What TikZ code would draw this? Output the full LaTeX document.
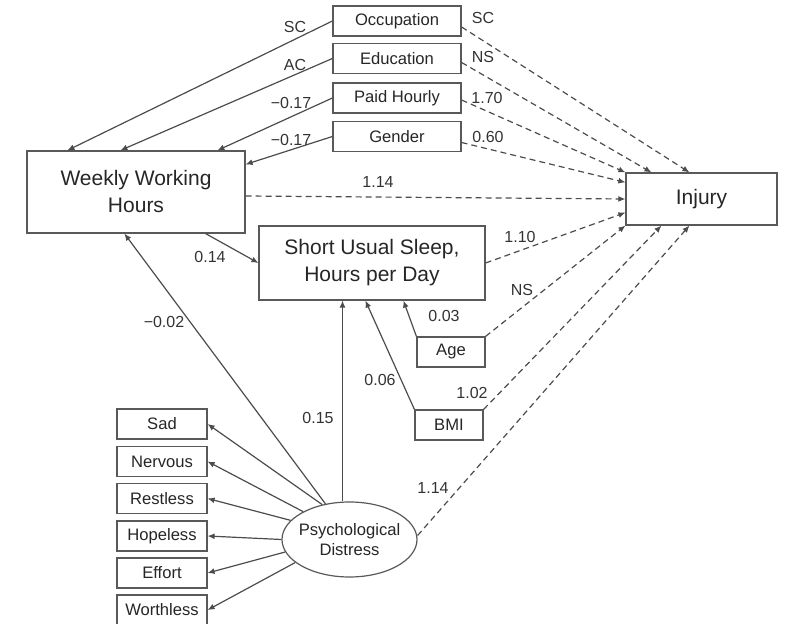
\documentclass[tikz,border=0pt]{standalone}
\usepackage{fontspec}
\setmainfont{Liberation Sans}
\usetikzlibrary{arrows.meta,shapes.geometric}

\tikzset{
  box/.style={draw=black!65, line width=0.6pt, inner sep=0pt, align=center, text=black!85,
    minimum height=15pt, font=\fontsize{8.3}{10}\selectfont},
  bigbox/.style={box, font=\fontsize{10.5}{13.5}\selectfont},
  arr/.style={draw=black!70, line width=0.6pt, -{Latex[length=3.5pt,width=3pt]}},
  darr/.style={arr, dash pattern=on 3pt off 2pt},
  lbl/.style={font=\fontsize{8}{9}\selectfont, text=black!80, inner sep=1pt}
}

\begin{document}
\begin{tikzpicture}[x=0.5pt, y=-0.5pt]
	\useasboundingbox (0,0) rectangle (793,624);
	% covariates at the top
	\node[box, minimum width=64pt] (occ) at (397,21) {Occupation};
	\node[box, minimum width=64pt] (edu) at (397,58.5) {Education};
	\node[box, minimum width=64pt] (paid) at (397,98) {Paid Hourly};
	\node[box, minimum width=64pt] (gender) at (397,136.5) {Gender};
	
	% main variables
	\node[bigbox, minimum width=109pt, minimum height=41pt] (wwh) at (136,192) {Weekly Working\\Hours};
	\node[bigbox, minimum width=75.5pt, minimum height=26pt] (injury) at (701.5,199) {Injury};
	\node[bigbox, minimum width=113pt, minimum height=37pt] (sleep) at (372,263) {Short Usual Sleep,\\Hours per Day};
	\node[box, minimum width=34pt] (age) at (451,352) {Age};
	\node[box, minimum width=34pt] (bmi) at (449,425) {BMI};
	
	% latent variable and indicators
	\node[box, ellipse, inner xsep=-5pt, minimum width=67.5pt, minimum height=37.5pt] (psych) at (349.5,539.5) {Psychological\\Distress};
	\node[box, minimum width=45pt] (sad) at (162,424) {Sad};
	\node[box, minimum width=45pt] (nervous) at (162,461.5) {Nervous};
	\node[box, minimum width=45pt] (restless) at (162,498.5) {Restless};
	\node[box, minimum width=45pt] (hopeless) at (162,536) {Hopeless};
	\node[box, minimum width=45pt] (effort) at (162,573) {Effort};
	\node[box, minimum width=45pt] (worthless) at (162,610) {Worthless};
	
	% solid paths
	\draw[arr] (occ.west) -- ([xshift=20.5pt]wwh.north west);
	\draw[arr] (edu.west) -- ([xshift=47pt]wwh.north west);
	\draw[arr] (paid.west) -- ([xshift=95.5pt]wwh.north west);
	\draw[arr] (gender.west) -- ([yshift=-7pt]wwh.north east);
	\draw[arr] ([xshift=-20pt]wwh.south east) -- (sleep.west);
	\draw[arr] (psych.124) -- ([xshift=49pt]wwh.south west);
	\draw[arr] ([xshift=-3.5pt]psych.north) -- ([xshift=-3.5pt]psych.north |- sleep.south);
	\draw[arr] (bmi.north west) -- ([xshift=53.5pt]sleep.south west);
	\draw[arr] (age.north west) -- ([xshift=72.5pt]sleep.south west);
	\draw[arr] (psych.128) -- (sad.east);
	\draw[arr] (psych.149) -- (nervous.east);
	\draw[arr] (psych.162) -- (restless.east);
	\draw[arr] (psych.180) -- (hopeless.east);
	\draw[arr] (psych.191) -- (effort.east);
	\draw[arr] (psych.203) -- (worthless.east);
	
	% dashed paths to injury
	\draw[darr] ([yshift=-3pt]occ.east) -- ([xshift=32pt]injury.north west);
	\draw[darr] ([yshift=-2pt]edu.east) -- ([xshift=13pt]injury.north west);
	\draw[darr] ([yshift=-1pt]paid.east) -- (injury.north west);
	\draw[darr] ([yshift=-3pt]gender.east) -- ([yshift=-5pt]injury.north west);
	\draw[darr] ([yshift=-2pt]wwh.east) -- (injury.west);
	\draw[darr] (sleep.east) -- ([yshift=6.5pt]injury.south west);
	\draw[darr] (age.north east) -- (injury.south west);
	\draw[darr] (bmi.north east) -- ([xshift=18pt]injury.south west);
	\draw[darr] ([yshift=2pt]psych.east) -- ([xshift=32pt]injury.south west);
	
	% path coefficients
	\node[lbl] (l-occ) at (295,27) {SC};
	\node[lbl] (l-edu) at (295,65) {AC};
	\node[lbl] (l-paid) at (291,103) {−0.17};
	\node[lbl] (l-gender) at (291,140) {−0.17};
	\node[lbl] (i-occ) at (483,18) {SC};
	\node[lbl] (i-edu) at (483,57) {NS};
	\node[lbl] (i-paid) at (487,98) {1.70};
	\node[lbl] (i-gender) at (488,137) {0.60};
	\node[lbl] (i-wwh) at (378,182) {1.14};
	\node[lbl] (i-sleep) at (520,237) {1.10};
	\node[lbl] (i-age) at (522,290) {NS};
	\node[lbl] (i-bmi) at (472,393) {1.02};
	\node[lbl] (i-psych) at (433,488) {1.14};
	\node[lbl] (l-wwh) at (210,257) {0.14};
	\node[lbl] (l-psych) at (164,322) {−0.02};
	\node[lbl] (s-psych) at (318,418) {0.15};
	\node[lbl] (s-bmi) at (380,380) {0.06};
	\node[lbl] (s-age) at (444,316) {0.03};
\end{tikzpicture}
\end{document}
